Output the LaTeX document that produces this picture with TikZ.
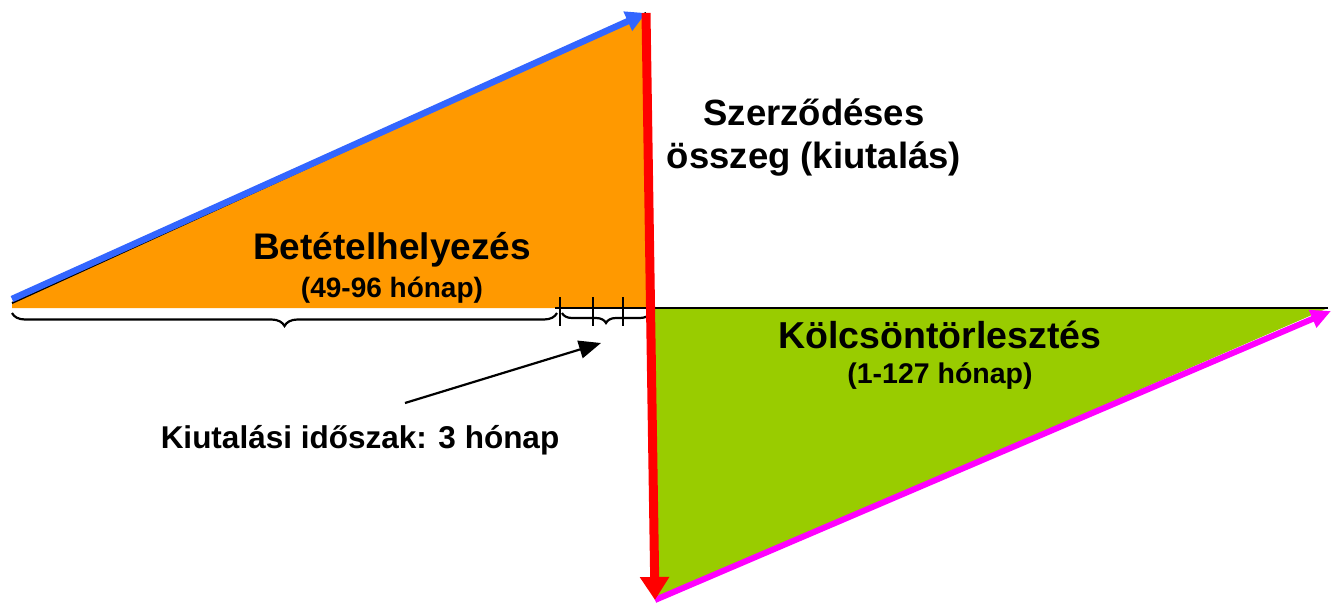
\documentclass[tikz,border=0pt]{standalone}
\usepackage{fontspec}
\setmainfont{Liberation Sans}
\usetikzlibrary{decorations.pathreplacing,arrows.meta}
\definecolor{orng}{RGB}{255,153,0}
\definecolor{grn}{RGB}{153,204,0}
\definecolor{blu}{RGB}{51,102,255}
\definecolor{mag}{RGB}{255,0,255}
\begin{document}
\begin{tikzpicture}[x=1pt,y=-1pt,
  lbl/.style={font=\bfseries, inner sep=0pt, align=center},
  brc/.style={decorate, decoration={brace, mirror, amplitude=#1}, line width=2.2pt}]
\useasboundingbox (0,0) rectangle (1331,603);
% coordinates
\coordinate (L) at (12,299);
\coordinate (T) at (646,13);
\coordinate (O) at (650,308);
\coordinate (R) at (1328,308);
\coordinate (B) at (655,600);
% triangles
\fill[orng] (12,302) -- (T) -- (650,308) -- (12,308) -- cycle;
\fill[grn] (O) -- (R) -- (B) -- cycle;
\draw[line width=2pt] (12,303) -- (T);
\draw[line width=2.2pt] (555,308) -- (R);
% ticks
\draw[line width=2.2pt] (560,297) -- (560,326);
\draw[line width=2.2pt] (593,297) -- (593,326);
\draw[line width=2.2pt] (623,297) -- (623,326);
% braces
\coordinate (b1) at (12,313);
\coordinate (b2) at (557,313);
\coordinate (b3) at (562,313);
\coordinate (b4) at (650,313);
\draw[brc=13pt] (b1) -- (b2);
\draw[brc=10pt] (b3) -- (b4);
% arrows
\draw[line width=6.5pt, blu, -{Triangle[length=20pt,width=20pt]}] (L) -- (T);
\draw[line width=6pt, mag, -{Triangle[length=20pt,width=18pt]}] (B) -- (1331,311);
\draw[line width=9pt, red, -{Triangle[length=23pt,width=28pt]}] (T) -- (B);
% text
\node[lbl, font=\bfseries\fontsize{37}{40}\selectfont] (bet) at (392,250) {Betételhelyezés};
\node[lbl, font=\bfseries\fontsize{28}{30}\selectfont] (bet2) at (392,290) {(49-96 hónap)};
\node[lbl, font=\bfseries\fontsize{36.5}{43}\selectfont] (szer) at (814,137) {Szerződéses\\összeg (kiutalás)};
\node[lbl, font=\bfseries\fontsize{37.5}{40}\selectfont] (kol) at (940,335) {Kölcsöntörlesztés};
\node[lbl, font=\bfseries\fontsize{28.5}{30}\selectfont] (kol2) at (940,376) {(1-127 hónap)};
\node[lbl, font=\bfseries\fontsize{31.5}{34}\selectfont] (kiu) at (360,440) {Kiutalási időszak: 3 hónap};
\coordinate (as) at (405,403);
\coordinate (ae) at (601,343);
\draw[line width=2.2pt, -{Triangle[length=22pt,width=18pt]}] (as) -- (ae);
\end{tikzpicture}
\end{document}
